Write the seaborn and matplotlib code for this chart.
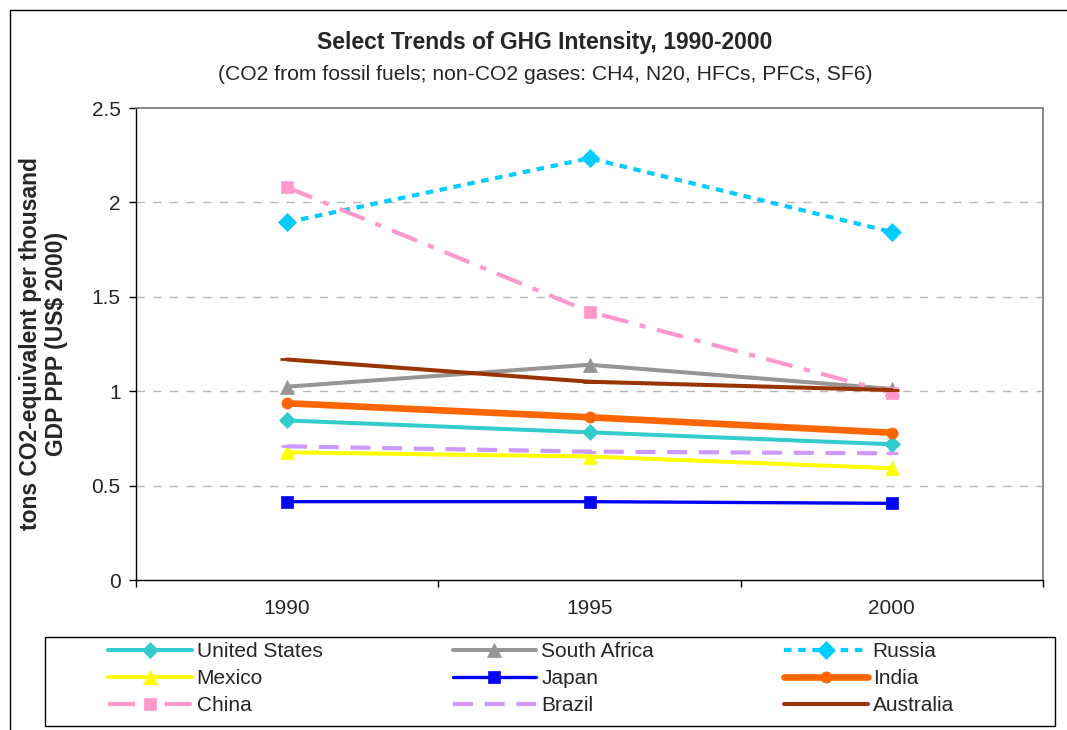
import numpy as np
import pandas as pd
import matplotlib
matplotlib.use("Agg")
import matplotlib.pyplot as plt
from matplotlib.lines import Line2D
from matplotlib.patches import Rectangle
import seaborn as sns

# === Data ===
years = ["1990", "1995", "2000"]
united_states = [0.845, 0.782, 0.719]
south_africa = [1.024, 1.140, 1.012]
russia = [1.895, 2.234, 1.843]
mexico = [0.676, 0.654, 0.592]
japan = [0.415, 0.415, 0.406]
india = [0.936, 0.862, 0.780]
china = [2.080, 1.421, 0.992]
brazil = [0.708, 0.680, 0.671]
australia = [1.168, 1.050, 1.006]

y_ticks = [0, 0.5, 1, 1.5, 2, 2.5]
y_tick_labels = ["0", "0.5", "1", "1.5", "2", "2.5"]

series = {
    "United States": united_states,
    "South Africa": south_africa,
    "Russia": russia,
    "Mexico": mexico,
    "Japan": japan,
    "India": india,
    "China": china,
    "Brazil": brazil,
    "Australia": australia,
}

# style per series: colour, line width, dash, marker, marker size
styles = {
    "United States": ("#33CCCC", 2.9, "-", "D", 8),
    "South Africa": ("#969696", 2.9, "-", "^", 10),
    "Russia": ("#00CCFF", 3.0, (0, (1.8, 1.6)), "D", 9),
    "Mexico": ("#FFFF00", 2.9, "-", "^", 10),
    "Japan": ("#0000FF", 2.4, "-", "s", 8),
    "India": ("#FF6600", 4.8, "-", "o", 8),
    "China": ("#FF99CC", 3.0, (0, (6.5, 2.8, 1.5, 2.8)), "s", 9),
    "Brazil": ("#CC99FF", 3.0, (0, (4.8, 2.8)), "_", 8),
    "Australia": ("#993300", 2.9, "-", "_", 10),
}

df = pd.DataFrame(
    [(name, yr, v) for name, vals in series.items() for yr, v in zip(years, vals)],
    columns=["country", "year", "value"],
)

# === Plot ===
sns.set_style("white")
plt.rcParams["font.family"] = ["Liberation Sans", "DejaVu Sans"]

fig = plt.figure(figsize=(10.67, 7.3), dpi=100)
ax = fig.add_axes([136 / 1067, 1 - 580 / 730, 907 / 1067, 472 / 730])

handles = {}
for name in series:
    color, lw, ls, mk, ms = styles[name]
    sub = df[df["country"] == name]
    sns.lineplot(data=sub, x="year", y="value", ax=ax, color=color, lw=lw,
                 linestyle=ls, marker=mk, markersize=ms, markeredgecolor=color,
                 markeredgewidth=2 if mk == "_" else 0.5, sort=False)
    handles[name] = ax.lines[-1]

ax.set_ylim(0, 2.5)
ax.set_xlim(-0.5, 2.5)
ax.set_yticks(y_ticks)
ax.set_yticklabels(y_tick_labels, fontsize=15)
ax.set_xticks([-0.5, 0.5, 1.5, 2.5])
ax.set_xticklabels([])
ax.set_xticks([0, 1, 2], minor=True)
ax.set_xticklabels(years, minor=True, fontsize=15)
ax.tick_params(axis="x", which="major", direction="out", length=5, width=1, color="black", bottom=True)
ax.tick_params(axis="x", which="minor", length=0, pad=14)
ax.tick_params(axis="y", direction="out", length=5, width=1, color="black", left=True, pad=6)
ax.set_xlabel("")
ax.set_ylabel("tons CO2-equivalent per thousand\nGDP PPP (US$ 2000)", fontsize=16.5,
              fontweight="bold", linespacing=1.15)
ax.yaxis.set_label_coords(-0.075, 0.5)

for yv in y_ticks[1:-1]:
    ax.axhline(yv, color="#B8B8B8", lw=1, linestyle=(0, (6, 6)), zorder=0)

for side in ["left", "bottom"]:
    ax.spines[side].set_color("black")
    ax.spines[side].set_linewidth(1)
for side in ["top", "right"]:
    ax.spines[side].set_color("#808080")
    ax.spines[side].set_linewidth(1.3)

fig.text(545 / 1067, 1 - 42 / 730, "Select Trends of GHG Intensity, 1990-2000",
         ha="center", va="center", fontsize=16.5, fontweight="bold")
fig.text(545 / 1067, 1 - 74 / 730,
         "(CO2 from fossil fuels; non-CO2 gases: CH4, N20, HFCs, PFCs, SF6)",
         ha="center", va="center", fontsize=15.2)

# outer chart frame (runs off the right and bottom)
fig.add_artist(Line2D([10 / 1067, 10 / 1067], [0, 1 - 10 / 730], color="black", lw=1))
fig.add_artist(Line2D([10 / 1067, 1], [1 - 10 / 730, 1 - 10 / 730], color="black", lw=1))

# legend box
fig.add_artist(Rectangle((45 / 1067, 1 - 726 / 730), 1010 / 1067, 89 / 730,
                         transform=fig.transFigure, fill=False, edgecolor="black", lw=1))

order = ["United States", "Mexico", "China",
         "South Africa", "Japan", "Brazil",
         "Russia", "India", "Australia"]
ax.legend([handles[n] for n in order], order, ncol=3, frameon=False,
          loc="upper left", bbox_to_anchor=(104 / 1067, 1 - 638 / 730),
          bbox_transform=fig.transFigure, fontsize=15, handlelength=4.0,
          handletextpad=0.25, columnspacing=6.25, labelspacing=0.38,
          borderpad=0.2, borderaxespad=0)

fig.savefig("out.png", dpi=100)
plt.close()
